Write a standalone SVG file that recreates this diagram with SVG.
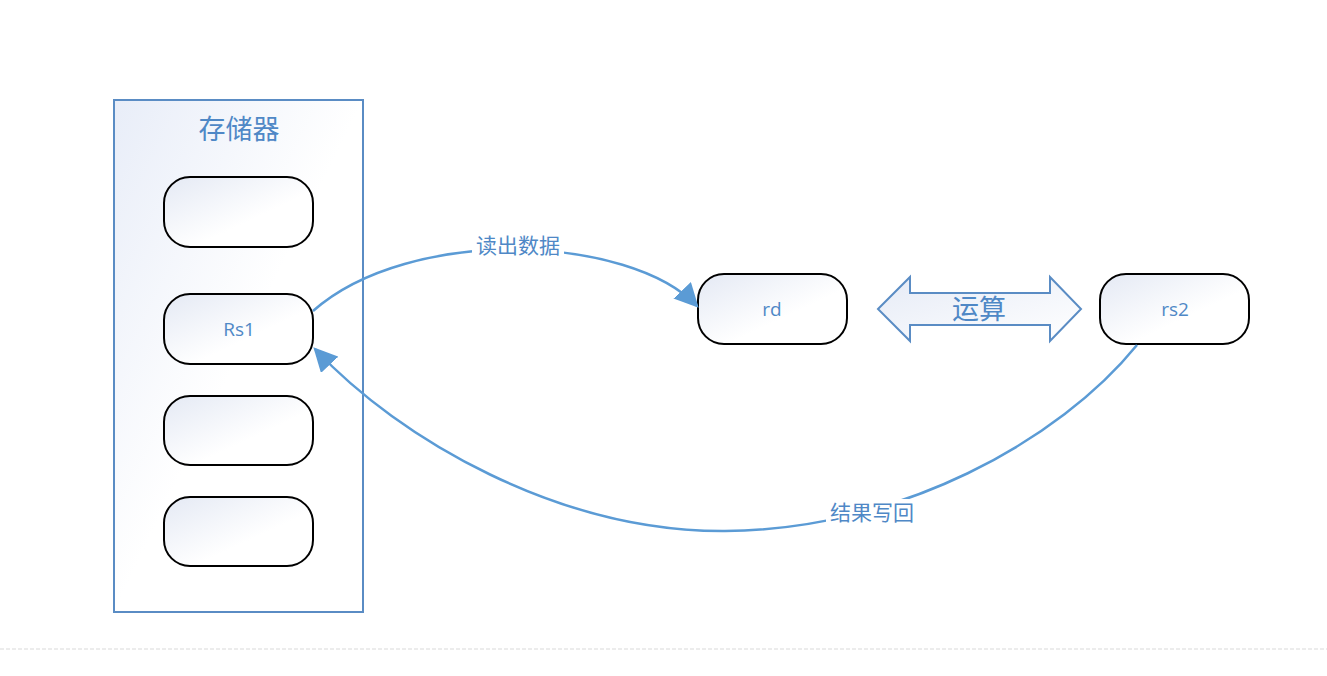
<svg xmlns="http://www.w3.org/2000/svg" width="1327" height="676" viewBox="0 0 1327 676">
<defs>
<linearGradient id="gBox" x1="0" y1="0" x2="1" y2="1">
<stop offset="0" stop-color="#e4e9f4"/>
<stop offset="0.6" stop-color="#ffffff"/>
<stop offset="1" stop-color="#ffffff"/>
</linearGradient>
<linearGradient id="gCont" x1="0" y1="0" x2="1" y2="1">
<stop offset="0" stop-color="#e8edf8"/>
<stop offset="0.5" stop-color="#ffffff"/>
<stop offset="1" stop-color="#ffffff"/>
</linearGradient>
<linearGradient id="gArrow" x1="0" y1="0" x2="1" y2="1">
<stop offset="0" stop-color="#e6ebf6"/>
<stop offset="1" stop-color="#ffffff"/>
</linearGradient>
<marker id="ah" viewBox="0 0 10 10" refX="9" refY="5" markerWidth="24" markerHeight="24" markerUnits="userSpaceOnUse" orient="auto">
<path d="M0,0 L10,5 L0,10 Z" fill="#5b9bd5"/>
</marker>
<style>
.box{fill:url(#gBox);stroke:#000;stroke-width:2}
.lbl{font-family:"Open Sans","Noto Sans CJK SC",sans-serif;fill:#4f88c6;text-anchor:middle;dominant-baseline:central}
.conn{fill:none;stroke:#5b9bd5;stroke-width:2.5}
</style>
</defs>
<rect width="1327" height="676" fill="#fff"/>
<line x1="0" y1="649" x2="1327" y2="649" stroke="#d9d9d9" stroke-width="1" stroke-dasharray="4,2"/>
<g id="container">
<rect x="114" y="100" width="249" height="512" fill="url(#gCont)" stroke="#5a8cc4" stroke-width="2"/>
<text class="lbl" x="239" y="128" font-size="27">存储器</text>
</g>
<g id="box1"><rect class="box" x="164" y="177" width="149" height="70" rx="26"/></g>
<g id="rs1"><rect class="box" x="164" y="294" width="149" height="70" rx="26"/><text class="lbl" x="239" y="329" font-size="19">Rs1</text></g>
<g id="box3"><rect class="box" x="164" y="396" width="149" height="69" rx="26"/></g>
<g id="box4"><rect class="box" x="164" y="497" width="149" height="69" rx="26"/></g>
<g id="rd"><rect class="box" x="698" y="274" width="149" height="70" rx="26"/><text class="lbl" x="772" y="309" font-size="19">rd</text></g>
<g id="rs2"><rect class="box" x="1100" y="274" width="149" height="70" rx="26"/><text class="lbl" x="1175" y="309" font-size="19">rs2</text></g>
<g id="op">
<path d="M878,309 L910,277 L910,293 L1050,293 L1050,277 L1081,309 L1050,341 L1050,325 L910,325 L910,341 Z" fill="url(#gArrow)" stroke="#5a8cc4" stroke-width="2"/>
<text class="lbl" x="979" y="308" font-size="27">运算</text>
</g>
<g id="connectors">
<path class="conn" d="M313,311 C410,225 630,235 697,306" marker-end="url(#ah)"/>
<path class="conn" d="M1137,345 C1060,440 900,530 725,531 C560,532 400,440 315,349" marker-end="url(#ah)"/>
<rect x="472" y="232" width="92" height="26" fill="#fff"/>
<text class="lbl" x="518" y="245" font-size="21">读出数据</text>
<rect x="826" y="499" width="92" height="26" fill="#fff"/>
<text class="lbl" x="872" y="512" font-size="21">结果写回</text>
</g>
</svg>
